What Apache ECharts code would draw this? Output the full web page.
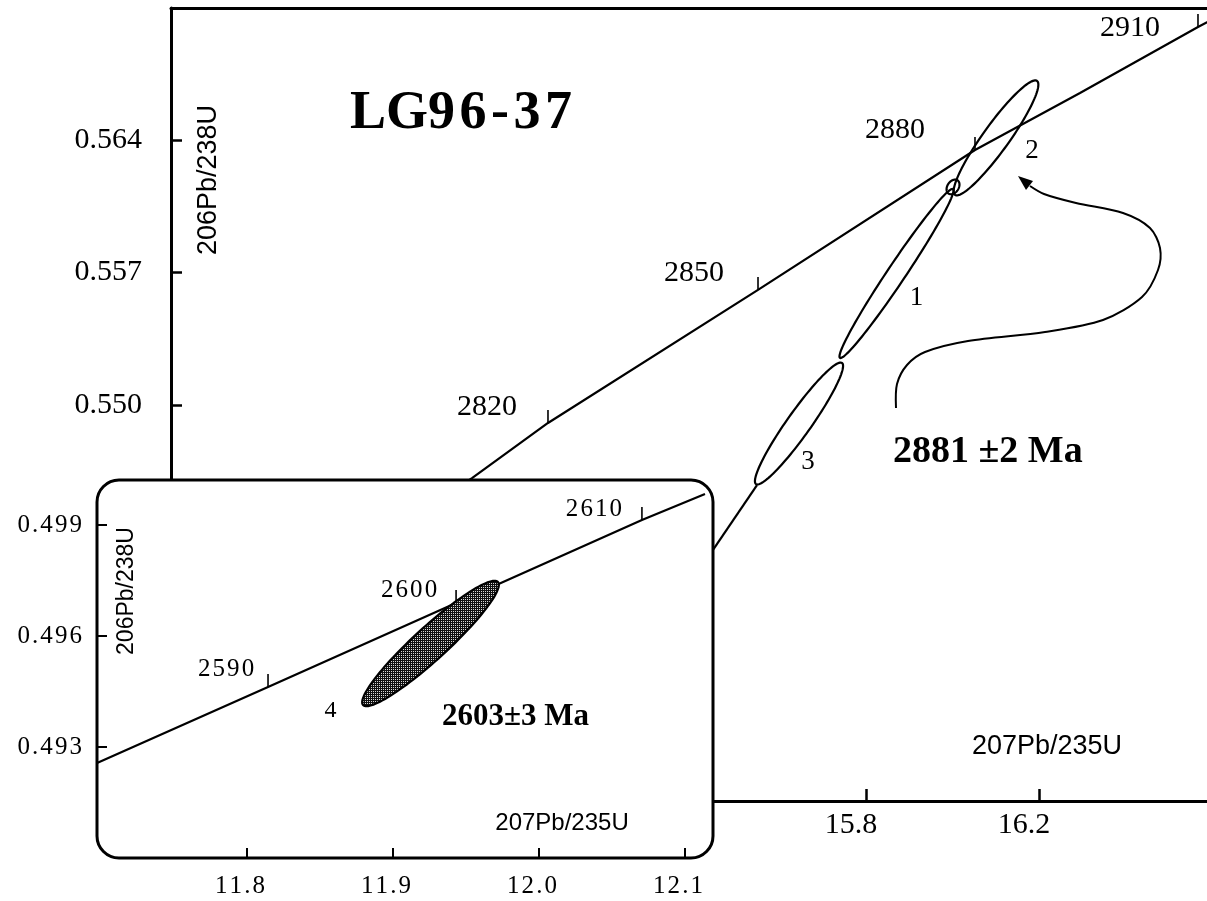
<!DOCTYPE html>
<html>
<head>
<meta charset="utf-8">
<script src="https://cdn.jsdelivr.net/npm/echarts@6/dist/echarts.min.js"></script>
<style>
  html, body { margin: 0; padding: 0; background: #fff; }
  #c { width: 1207px; height: 901px; }
</style>
</head>
<body>
<div id="c"></div>
<script>
// ---- Sample LG96-37: U-Pb concordia (main view) ----
const concMainX = [14.7225, 14.8890, 15.0647, 15.5503, 16.0520, 16.2948, 16.5676, 16.6116];
const concMainY = [0.54366, 0.54614, 0.54905, 0.55608, 0.56347, 0.56648, 0.56997, 0.57050];

const ageMain  = [2820, 2850, 2880, 2910];
const ageMainX = [15.0647, 15.5503, 16.0520, 16.5676];
const ageMainY = [0.54905, 0.55608, 0.56347, 0.56997];

// discordant trend below analysis 3
const trendX = [15.407, 15.548];
const trendY = [0.54102, 0.54577];

// error ellipses: centre, end of major semi-axis, minor/major ratio
const spotMain      = ['1', '2', '3', ''];
const spotMainX     = [15.8705, 16.1006, 15.6451, 16.0012];
const spotMainY     = [0.55695, 0.56411, 0.54902, 0.56152];
const spotMainTipX  = [16.0012, 16.1954, 15.7445, 16.0116];
const spotMainTipY  = [0.56141, 0.56712, 0.55222, 0.56187];
const spotMainRatio = [0.089, 0.186, 0.16, 0.7];

const xTicksMain = [15.8, 16.2];
const yTicksMain = [0.550, 0.557, 0.564];

// ---- Inset: analysis 4 ----
const concInsetX = [11.6973, 11.8144, 11.9432, 12.0705, 12.1137];
const concInsetY = [0.492568, 0.494622, 0.496892, 0.499135, 0.499838];

const ageInset  = [2590, 2600, 2610];
const ageInsetX = [11.8144, 11.9432, 12.0705];
const ageInsetY = [0.494622, 0.496892, 0.499135];

const spotInset      = ['4'];
const spotInsetX     = [11.9257];
const spotInsetY     = [0.495797];
const spotInsetTipX  = [11.9719];
const spotInsetTipY  = [0.497459];
const spotInsetRatio = [0.18];

const xTicksInset = [11.8, 11.9, 12.0, 12.1];
const yTicksInset = [0.493, 0.496, 0.499];

// ---- layout ----
const SERIF = '"Liberation Serif","Times New Roman",serif';
const SANS = '"Liberation Sans",Arial,sans-serif';
const MAIN = { left: 171, top: 8, right: 0, bottom: 100 };
const INSET = { left: 97, top: 480, width: 616, height: 378, r: 22 };
const TICK = 13;
const ageMainOffset  = [[-61, -16], [-64, -17], [-80, -20], [-68, 1]];
const ageInsetOffset = [[-42, -18], [-47, -13], [-48, -11]];
const spotMainOffset = [[20, 24], [36, 13], [9, 38], null];
const spotInsetOffset = [[-100, 67]];

const HS = '\u200A';
const spaced = s => s.split('').join(HS);

// stippled fill for the inset ellipse
const pat = document.createElement('canvas');
pat.width = 2; pat.height = 2;
(function () {
  const g = pat.getContext('2d');
  g.fillStyle = '#101010'; g.fillRect(0, 0, 2, 2);
  g.fillStyle = '#d8d8d8'; g.fillRect(1, 1, 1, 1);
})();

const zip = (a, b) => a.map((v, i) => [v, b[i]]);
const ellipseData = (x, y, tx, ty, r) => x.map((v, i) => [v, y[i], tx[i], ty[i], r[i]]);

function ellipseRenderer(names, offsets, fill, font) {
  return function (params, api) {
    const c = api.coord([api.value(0), api.value(1)]);
    const t = api.coord([api.value(2), api.value(3)]);
    const r = api.value(4);
    const vx = t[0] - c[0], vy = t[1] - c[1];
    const px = -vy * r, py = vx * r;
    const pts = [];
    for (let k = 0; k < 120; k++) {
      const th = k / 120 * Math.PI * 2;
      const cs = Math.cos(th), sn = Math.sin(th);
      pts.push([c[0] + cs * vx + sn * px, c[1] + cs * vy + sn * py]);
    }
    const children = [{
      type: 'polygon', shape: { points: pts },
      style: { fill: fill, stroke: '#000', lineWidth: 2.2 }
    }];
    const o = offsets[params.dataIndex];
    if (o && names[params.dataIndex]) {
      children.push({
        type: 'text', x: c[0] + o[0], y: c[1] + o[1],
        style: { text: names[params.dataIndex], font: font, fill: '#000', align: 'center', verticalAlign: 'middle' }
      });
    }
    return { type: 'group', children: children };
  };
}

function ageRenderer(ages, offsets, font, fmt) {
  return function (params, api) {
    const p = api.coord([api.value(0), api.value(1)]);
    const o = offsets[params.dataIndex];
    return {
      type: 'group', children: [
        { type: 'line', shape: { x1: p[0], y1: p[1], x2: p[0], y2: p[1] - TICK }, style: { stroke: '#000', lineWidth: 1.6 } },
        { type: 'text', x: p[0] + o[0], y: p[1] + o[1],
          style: { text: fmt(String(ages[params.dataIndex])), font: font, fill: '#000', align: 'center', verticalAlign: 'middle' } }
      ]
    };
  };
}

const chart = echarts.init(document.getElementById('c'), null, { renderer: 'canvas' });

// arrow from the age annotation to analysis 2 (pixel path)
const arrowPath = [[896, 408], [897, 384], [907, 365], [925, 352], [968, 341], [1045, 332], [1103, 320],
  [1142, 297], [1158, 270], [1160, 248], [1150, 228], [1123, 213], [1076, 203], [1044, 194], [1030, 186]];
const arrowHead = [[1018, 176], [1033, 181], [1026, 190]];

const MAIN_X = { min: 14.19306, max: 16.58844 };
const frameLine = { show: true, onZero: false, lineStyle: { color: '#000', width: 3 } };

chart.setOption({
  animation: false,
  backgroundColor: '#fff',
  grid: [
    { left: MAIN.left, top: MAIN.top, right: MAIN.right, bottom: MAIN.bottom, show: false },
    { left: INSET.left, top: INSET.top, width: INSET.width, height: INSET.height, show: false }
  ],
  xAxis: [
    { type: 'value', gridIndex: 0, min: MAIN_X.min, max: MAIN_X.max, position: 'bottom',
      axisLine: frameLine, splitLine: { show: false },
      axisTick: { inside: true, length: 12, customValues: xTicksMain, lineStyle: { color: '#000', width: 2.5 } },
      axisLabel: { customValues: xTicksMain, margin: 9, padding: [0, 30, 0, 0],
        formatter: v => v.toFixed(1), color: '#000', fontFamily: SERIF, fontSize: 30 } },
    { type: 'value', gridIndex: 1, min: 11.69726, max: 12.11918, z: 60,
      axisLine: { show: false }, splitLine: { show: false },
      axisTick: { inside: true, length: 10, customValues: xTicksInset, lineStyle: { color: '#000', width: 2 } },
      axisLabel: { customValues: xTicksInset, margin: 16, padding: [0, 14, 0, 0],
        formatter: v => spaced(v.toFixed(1)), color: '#000', fontFamily: SERIF, fontSize: 25 } },
    // top edge of the main frame
    { type: 'value', gridIndex: 0, min: MAIN_X.min, max: MAIN_X.max, position: 'top',
      axisLine: frameLine, splitLine: { show: false }, axisTick: { show: false }, axisLabel: { show: false } }
  ],
  yAxis: [
    { type: 'value', gridIndex: 0, min: 0.52908, max: 0.570973, position: 'left',
      axisLine: frameLine, splitLine: { show: false },
      axisTick: { inside: true, length: 11, customValues: yTicksMain, lineStyle: { color: '#000', width: 2.5 } },
      axisLabel: { customValues: yTicksMain, margin: 29,
        formatter: v => v.toFixed(3), color: '#000', fontFamily: SERIF, fontSize: 30 } },
    { type: 'value', gridIndex: 1, min: 0.49, max: 0.500216, z: 60,
      axisLine: { show: false }, splitLine: { show: false },
      axisTick: { inside: true, length: 10, customValues: yTicksInset, lineStyle: { color: '#000', width: 2 } },
      axisLabel: { customValues: yTicksInset, margin: 15,
        formatter: v => spaced(v.toFixed(3)), color: '#000', fontFamily: SERIF, fontSize: 25 } }
  ],
  series: [
    // main view
    { type: 'line', xAxisIndex: 0, yAxisIndex: 0, z: 2, data: zip(concMainX, concMainY),
      symbol: 'none', lineStyle: { color: '#000', width: 2.2 } },
    { type: 'line', xAxisIndex: 0, yAxisIndex: 0, z: 2, data: zip(trendX, trendY),
      symbol: 'none', lineStyle: { color: '#000', width: 2.2 } },
    { type: 'custom', xAxisIndex: 0, yAxisIndex: 0, z: 3,
      data: zip(ageMainX, ageMainY), encode: { x: 0, y: 1 },
      renderItem: ageRenderer(ageMain, ageMainOffset, '30px ' + SERIF, s => s) },
    { type: 'custom', xAxisIndex: 0, yAxisIndex: 0, z: 3,
      data: ellipseData(spotMainX, spotMainY, spotMainTipX, spotMainTipY, spotMainRatio), encode: { x: 0, y: 1 },
      renderItem: ellipseRenderer(spotMain, spotMainOffset, 'none', '27px ' + SERIF) },
    // inset
    { type: 'line', xAxisIndex: 1, yAxisIndex: 1, z: 70, data: zip(concInsetX, concInsetY),
      symbol: 'none', lineStyle: { color: '#000', width: 2.2 } },
    { type: 'custom', xAxisIndex: 1, yAxisIndex: 1, z: 71,
      data: zip(ageInsetX, ageInsetY), encode: { x: 0, y: 1 },
      renderItem: ageRenderer(ageInset, ageInsetOffset, '25px ' + SERIF, spaced) },
    { type: 'custom', xAxisIndex: 1, yAxisIndex: 1, z: 72,
      data: ellipseData(spotInsetX, spotInsetY, spotInsetTipX, spotInsetTipY, spotInsetRatio), encode: { x: 0, y: 1 },
      renderItem: ellipseRenderer(spotInset, spotInsetOffset, { image: pat, repeat: 'repeat' }, '24px ' + SERIF) }
  ],
  graphic: {
    elements: [
      // inset frame (covers the main view beneath it)
      { type: 'rect', z: 50,
        shape: { x: INSET.left, y: INSET.top, width: INSET.width, height: INSET.height, r: INSET.r },
        style: { fill: '#fff', stroke: '#000', lineWidth: 3 } },
      // sample name
      { type: 'text', z: 80, x: 461, y: 114,
        style: { text: '{a|LG9}{s| }{a|6}{s| }{a|-}{s| }{a|3}{s| }{a|7}', align: 'center', verticalAlign: 'middle',
          rich: { a: { font: 'bold 54px ' + SERIF, fill: '#000' }, s: { font: '18px ' + SERIF } } } },
      // ages
      { type: 'text', z: 80, x: 893, y: 452,
        style: { text: '2881 \u00B12 Ma', font: 'bold 38px ' + SERIF, fill: '#000', align: 'left', verticalAlign: 'middle' } },
      { type: 'text', z: 80, x: 442, y: 717,
        style: { text: '2603\u00B13 Ma', font: 'bold 31px ' + SERIF, fill: '#000', align: 'left', verticalAlign: 'middle' } },
      // axis titles
      { type: 'text', z: 80, x: 209, y: 180, rotation: Math.PI / 2,
        style: { text: '206Pb/238U', font: '27px ' + SANS, fill: '#000', align: 'center', verticalAlign: 'middle' } },
      { type: 'text', z: 80, x: 1047, y: 747,
        style: { text: '207Pb/235U', font: '27px ' + SANS, fill: '#000', align: 'center', verticalAlign: 'middle' } },
      { type: 'text', z: 80, x: 127, y: 591, rotation: Math.PI / 2,
        style: { text: '206Pb/238U', font: '23px ' + SANS, fill: '#000', align: 'center', verticalAlign: 'middle' } },
      { type: 'text', z: 80, x: 562, y: 823,
        style: { text: '207Pb/235U', font: '24px ' + SANS, fill: '#000', align: 'center', verticalAlign: 'middle' } },
      // pointer to analysis 2
      { type: 'polyline', z: 80, shape: { points: arrowPath, smooth: 0.3 },
        style: { stroke: '#000', lineWidth: 2, fill: null } },
      { type: 'polygon', z: 80, shape: { points: arrowHead }, style: { fill: '#000' } }
    ]
  }
});
</script>
</body>
</html>
